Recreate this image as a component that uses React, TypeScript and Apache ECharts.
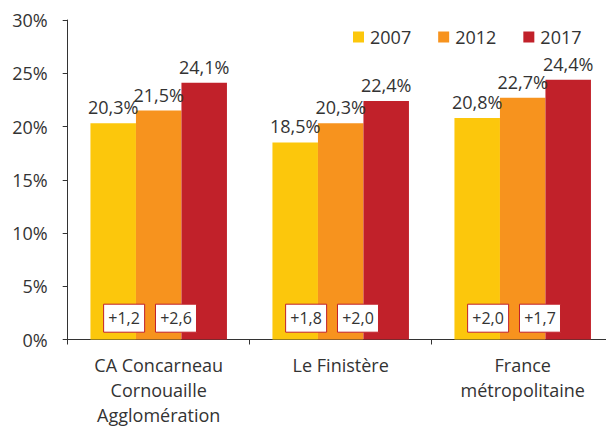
import React, { useEffect, useRef } from "react";
import * as echarts from "echarts";

const categories = ["CA Concarneau\nCornouaille\nAgglomération", "Le Finistère", "France\nmétropolitaine"];
const years = ["2007", "2012", "2017"];
const values2007 = [20.3, 18.5, 20.8];
const values2012 = [21.5, 20.3, 22.7];
const values2017 = [24.1, 22.4, 24.4];
const delta0712 = ["+1,2", "+1,8", "+2,0"];
const delta1217 = ["+2,6", "+2,0", "+1,7"];
const yTicks = [0, 5, 10, 15, 20, 25, 30];

const colors = ["#FCC70C", "#F7931E", "#C1212A"];
const FONT = "'Open Sans', sans-serif";
const TXT = "#333333";

const fmt = (v: number) => v.toFixed(1).replace(".", ",") + "%";

export default function App() {
  const ref = useRef<HTMLDivElement>(null);
  useEffect(() => {
    if (!ref.current) return;
    const chart = echarts.init(ref.current, undefined, { renderer: "svg" });
    const barSeries = [values2007, values2012, values2017].map((vals, i) => ({
      name: years[i],
      type: "bar",
      data: vals,
      barWidth: 45.5,
      barGap: "0%",
      itemStyle: { color: colors[i] },
      label: {
        show: true,
        position: "top",
        distance: 7,
        formatter: (p: any) => fmt(p.value),
        fontFamily: FONT,
        fontSize: 18,
        color: TXT,
      },
    }));
    const boxSeries = (labels: string[], rel: number, name: string) => ({
      name,
      type: "custom",
      data: labels.map((l, i) => [i, l]),
      encode: { x: 0 },
      renderItem: (params: any, api: any) => {
        const idx = api.value(0);
        const pt = api.coord([idx, 2]);
        const band = api.size([1, 0])[0];
        const cx = pt[0] + rel * band;
        const w = 41;
        const h = 28;
        return {
          type: "group",
          children: [
            {
              type: "rect",
              shape: { x: cx - w / 2, y: pt[1] - h / 2, width: w, height: h },
              style: { fill: "#ffffff", stroke: "#C1212A", lineWidth: 1 },
            },
            {
              type: "text",
              x: cx,
              y: pt[1],
              style: {
                text: labels[idx],
                fill: TXT,
                font: `16px ${FONT}`,
                align: "center",
                verticalAlign: "middle",
              },
            },
          ],
        };
      },
      z: 5,
    });
    chart.setOption({
      animation: false,
      textStyle: { fontFamily: FONT },
      grid: {
        left: 67.7,
        width: 546,
        top: 20,
        bottom: 88.5,
        containLabel: false,
        outerBoundsMode: "none",
      },
      legend: {
        data: years,
        left: 353,
        top: 28,
        padding: 0,
        itemWidth: 11,
        itemHeight: 11,
        itemGap: 27,
        icon: "rect",
        textStyle: { fontFamily: FONT, fontSize: 18, color: TXT, padding: [0, 0, 0, 1] },
      },
      xAxis: {
        type: "category",
        data: categories,
        axisLine: { lineStyle: { color: "#333", width: 1 } },
        axisTick: { show: true, length: 5, lineStyle: { color: "#333" } },
        axisLabel: {
          fontFamily: FONT,
          fontSize: 18,
          color: TXT,
          lineHeight: 25,
          margin: 13,
          interval: 0,
        },
      },
      yAxis: {
        type: "value",
        min: yTicks[0],
        max: yTicks[yTicks.length - 1],
        interval: 5,
        splitLine: { show: false },
        axisLine: { show: true, lineStyle: { color: "#333", width: 1 } },
        axisTick: { show: true, length: 5, lineStyle: { color: "#333" } },
        axisLabel: {
          fontFamily: FONT,
          fontSize: 18,
          color: TXT,
          margin: 20,
          formatter: (v: number) => `${v}%`,
        },
      },
      series: [
        ...barSeries,
        boxSeries(delta0712, -0.19, "d1"),
        boxSeries(delta1217, 0.095, "d2"),
      ],
    });
    return () => chart.dispose();
  }, []);
  return <div ref={ref} style={{ width: 606, height: 428, position: "absolute", left: 0, top: 0, overflow: "hidden" }} />;
}
